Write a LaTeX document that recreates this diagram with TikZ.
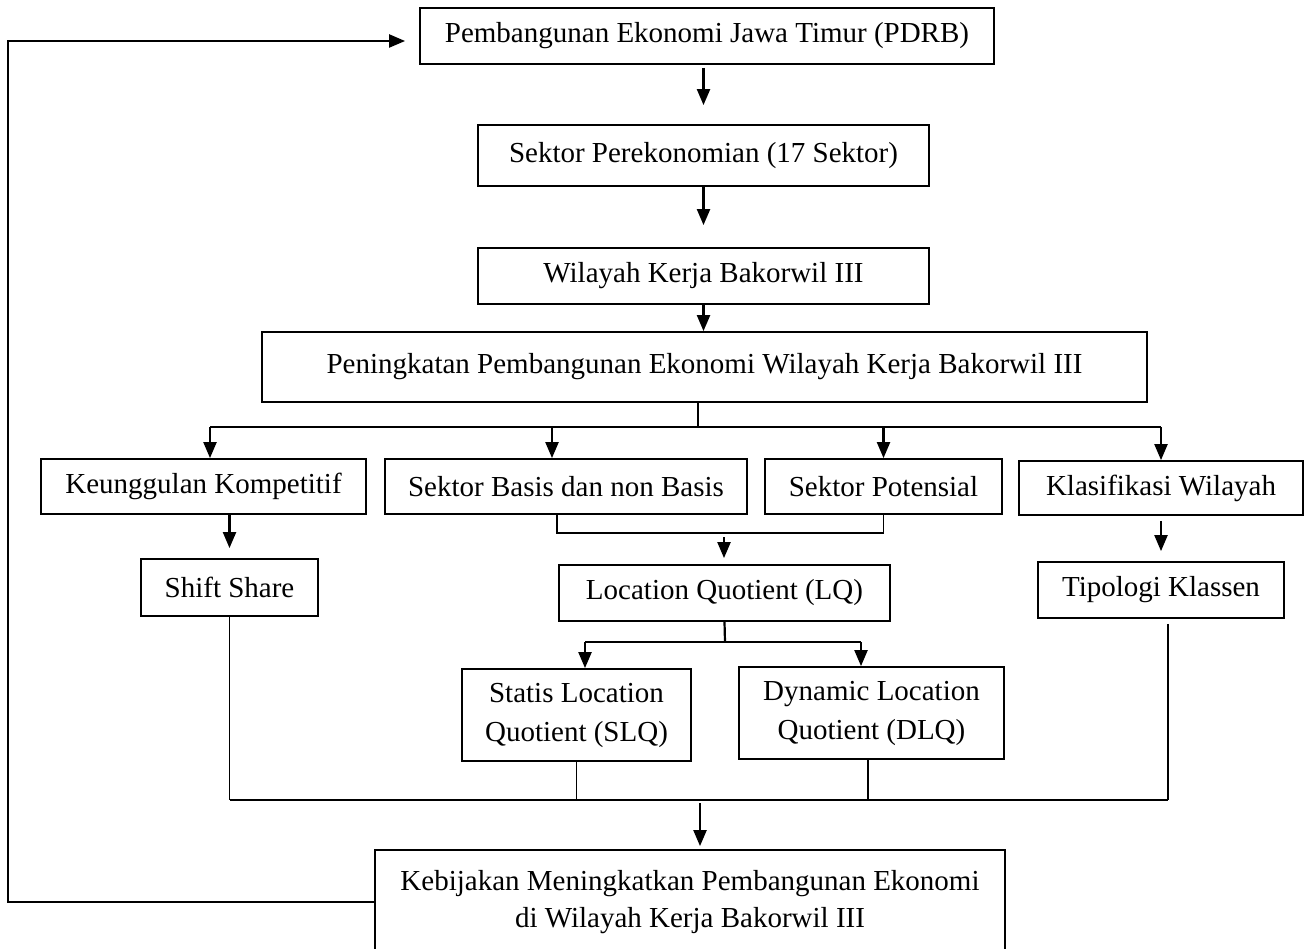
\documentclass[tikz,border=0pt]{standalone}
\usepackage{fontspec}
\setmainfont{Liberation Serif}
\usetikzlibrary{arrows.meta}
\tikzset{
  kotak/.style={draw, line width=1.8pt, inner sep=0pt, align=center,
    font=\fontsize{29}{39}\selectfont},
  panah/.style={line width=2.2pt, -{Triangle[length=16pt,width=13pt]}},
  garis/.style={line width=2.2pt},
  tipis/.style={line width=1.2pt}
}
\begin{document}
\begin{tikzpicture}[x=1pt,y=-1pt]
      \useasboundingbox (0,0) rectangle (1311,949);
      \node[kotak, minimum width=574pt, minimum height=56pt] (pdrb) at (707,36) {Pembangunan Ekonomi Jawa Timur (PDRB)};
      \node[kotak, minimum width=451pt, minimum height=61pt] (sektor) at (703.5,155.5) {Sektor Perekonomian (17 Sektor)};
      \node[kotak, minimum width=451pt, minimum height=56pt] (wilayah) at (703.5,276) {Wilayah Kerja Bakorwil III};
      \node[kotak, minimum width=885pt, minimum height=70pt] (tingkat) at (704.5,367) {Peningkatan Pembangunan Ekonomi Wilayah Kerja Bakorwil III};
      \node[kotak, minimum width=325pt, minimum height=55pt] (kompetitif) at (203.5,486.5) {Keunggulan Kompetitif};
      \node[kotak, minimum width=362pt, minimum height=55pt] (basis) at (566,486.5) {Sektor Basis dan non Basis};
      \node[kotak, minimum width=237pt, minimum height=55pt] (potensial) at (883.5,486.5) {Sektor Potensial};
      \node[kotak, minimum width=284pt, minimum height=54pt] (klasifikasi) at (1161,488) {Klasifikasi Wilayah};
      \node[kotak, minimum width=177pt, minimum height=57pt] (shift) at (229.5,587.5) {Shift Share};
      \node[kotak, minimum width=331pt, minimum height=56pt] (lq) at (724.5,593) {Location Quotient (LQ)};
      \node[kotak, minimum width=246pt, minimum height=56pt] (tipologi) at (1161,590) {Tipologi Klassen};
      \node[kotak, minimum width=229pt, minimum height=92pt] (slq) at (576.5,715) {Statis Location\\Quotient (SLQ)};
      \node[kotak, minimum width=265pt, minimum height=92pt] (dlq) at (871.5,713) {Dynamic Location\\Quotient (DLQ)};
      \node[kotak, minimum width=630pt, minimum height=104pt, font=\fontsize{29}{37}\selectfont] (kebijakan) at (690,902) {Kebijakan Meningkatkan Pembangunan Ekonomi\\di Wilayah Kerja Bakorwil III};
      \coordinate (cabang) at (698,427);
      \coordinate (gabung) at (724,533);
      \coordinate (pecah) at (725,642);
      \coordinate (kumpul) at (700,800);
      \coordinate (balik) at (8,902);
      % alur atas
      \draw[panah, shorten <=3pt, shorten >=19pt] (pdrb.south -| sektor.north) -- (sektor.north);
      \draw[panah, shorten >=22pt] (sektor.south) -- (wilayah.north);
      \draw[panah] (wilayah.south) -- (wilayah.south |- tingkat.north);
      % cabang empat
      \draw[garis] (tingkat.south -| cabang) -- (cabang);
      \draw[garis] ([xshift=6.5pt]kompetitif.north |- cabang) -- (klasifikasi.north |- cabang);
      \draw[panah] ([xshift=6.5pt]kompetitif.north |- cabang) -- ([xshift=6.5pt]kompetitif.north);
      \draw[panah] ([xshift=-14pt]basis.north |- cabang) -- ([xshift=-14pt]basis.north);
      \draw[panah] (potensial.north |- cabang) -- (potensial.north);
      \draw[panah] (klasifikasi.north |- cabang) -- (klasifikasi.north);
      \draw[panah, shorten >=10pt] (kompetitif.south -| shift.north) -- (shift.north);
      \draw[panah, shorten <=5pt, shorten >=10pt] (klasifikasi.south) -- (tipologi.north);
      % basis dan potensial ke LQ
      \draw[line width=1.8pt] ([xshift=-9pt]basis.south) |- (gabung) -| (potensial.south);
      \draw[panah, shorten <=4pt, shorten >=6pt] (gabung) -- (gabung |- lq.north);
      \draw[garis] (lq.south) -- (pecah);
      \draw[garis] ([xshift=8.5pt]slq.north |- pecah) -- ([xshift=-10.5pt]dlq.north |- pecah);
      \draw[panah] ([xshift=8.5pt]slq.north |- pecah) -- ([xshift=8.5pt]slq.north);
      \draw[panah] ([xshift=-10.5pt]dlq.north |- pecah) -- ([xshift=-10.5pt]dlq.north);
      % kumpul ke kebijakan
      \draw[tipis] (shift.south) -- (shift.south |- kumpul);
      \draw[tipis] (slq.south) -- (slq.south |- kumpul);
      \draw[tipis] ([xshift=-3.5pt]dlq.south) -- ([xshift=-3.5pt]dlq.south |- kumpul);
      \draw[tipis, shorten <=5pt] ([xshift=7pt]tipologi.south) -- ([xshift=7pt]tipologi.south |- kumpul);
      \draw[garis] (shift.south |- kumpul) -- ([xshift=7pt]tipologi.south |- kumpul);
      \draw[panah, shorten <=3pt, shorten >=3pt] (kumpul) -- (kumpul |- kebijakan.north);
      % umpan balik
      \draw[panah, shorten >=14pt] (kebijakan.west) -- (balik) |- ([yshift=-5pt]pdrb.west);
\end{tikzpicture}
\end{document}
